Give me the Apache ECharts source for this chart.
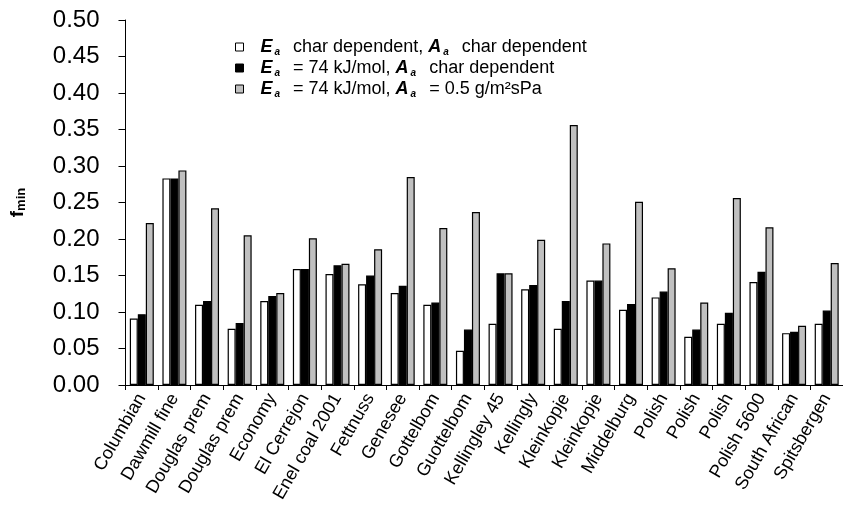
<!DOCTYPE html>
<html>
<head>
<meta charset="utf-8">
<script src="https://cdn.jsdelivr.net/npm/echarts@6/dist/echarts.min.js"></script>
<style>html,body{margin:0;padding:0;background:#fff;overflow:hidden}#c{width:843px;height:526px}</style>
</head>
<body>
<div id="c"></div>
<script>
var categories = ["Columbian","Dawmill fine","Douglas prem","Douglas prem","Economy","El Cerrejon","Enel coal 2001","Fettnuss","Genesee","Gottelbom","Guottelbom","Kellingley 45","Kellingly","Kleinkopje","Kleinkopje","Middelburg","Polish","Polish","Polish","Polish 5600","South African","Spitsbergen"];
var seriesNames = ["s1","s2","s3"];
var charDep = [0.091,0.283,0.110,0.077,0.115,0.159,0.152,0.138,0.126,0.110,0.047,0.084,0.131,0.077,0.143,0.103,0.120,0.066,0.084,0.141,0.071,0.084];
var ea74 = [0.097,0.283,0.115,0.085,0.122,0.159,0.164,0.150,0.136,0.113,0.076,0.153,0.137,0.115,0.143,0.111,0.128,0.076,0.099,0.155,0.073,0.102];
var ea74aa05 = [0.222,0.294,0.242,0.205,0.126,0.201,0.166,0.186,0.285,0.215,0.237,0.153,0.199,0.356,0.194,0.251,0.160,0.113,0.256,0.216,0.081,0.167];
var yTicks = {min:0, max:0.5, interval:0.05};

var chart = echarts.init(document.getElementById('c'), null, {renderer:'canvas'});
var ff = 'Liberation Sans, Arial, sans-serif';
var sub = {fontSize:10, fontStyle:'italic', fontWeight:'bold', fontFamily:ff, color:'#000', verticalAlign:'bottom', lineHeight:20, padding:[8,3,0,2]};
var big = {fontSize:18, fontStyle:'italic', fontWeight:'bold', fontFamily:ff, color:'#000', lineHeight:20};
var txt = {fontSize:18, fontFamily:ff, color:'#000', lineHeight:20};
var legendText = {
  s1: '{E|E}{s|a}{t|  char dependent, }{E|A}{s|a}{t|  char dependent}',
  s2: '{E|E}{s|a}{t|  = 74 kJ/mol, }{E|A}{s|a}{t|  char dependent}',
  s3: '{E|E}{s|a}{t|  = 74 kJ/mol, }{E|A}{s|a}{t|  = 0.5 g/m²sPa}'
};
function barSeries(name, data, color){
  return {
    name:name, type:'bar', data:data, barWidth:8, barGap:'0%',
    itemStyle:{color:color, borderColor:'#000', borderWidth:1.2},
    emphasis:{disabled:true}, animation:false
  };
}
chart.setOption({
  backgroundColor:'#fff',
  animation:false,
  grid:{left:120, width:729, top:20, height:365, containLabel:false},
  legend:{
    orient:'vertical', left:230, top:33, itemGap:2, itemWidth:8, itemHeight:8,
    icon:'rect', data:seriesNames,
    formatter:function(n){return legendText[n];},
    textStyle:{fontSize:18, fontFamily:ff, color:'#000', padding:[0,0,0,12], rich:{E:big, s:sub, t:txt}},
    itemStyle:{borderColor:'#000', borderWidth:1}
  },
  xAxis:{
    type:'category', data:categories,
    axisLine:{lineStyle:{color:'#000', width:1}},
    axisTick:{show:true, interval:0, length:5, lineStyle:{color:'#000'}},
    axisLabel:{interval:0, rotate:60, fontSize:18, fontFamily:ff, color:'#000', margin:10}
  },
  yAxis:{
    type:'value', min:yTicks.min, max:yTicks.max, interval:yTicks.interval,
    splitLine:{show:false},
    axisLine:{show:true, lineStyle:{color:'#000', width:1}},
    axisTick:{show:true, length:7, lineStyle:{color:'#000'}},
    axisLabel:{fontSize:24, fontFamily:ff, color:'#000', margin:26, formatter:function(v){return v.toFixed(2);}},
    name:'{f|f}{m|min}', nameLocation:'middle', nameRotate:90, nameGap:98,
    nameTextStyle:{rich:{f:{fontSize:19, fontWeight:'bold', fontFamily:ff, color:'#000'}, m:{fontSize:13, fontWeight:'bold', fontFamily:ff, color:'#000', verticalAlign:'bottom', padding:[7,0,0,0]}}}
  },
  series:[
    barSeries('s1', charDep, '#ffffff'),
    barSeries('s2', ea74, '#000000'),
    barSeries('s3', ea74aa05, '#c0c0c0')
  ]
});
</script>
</body>
</html>
